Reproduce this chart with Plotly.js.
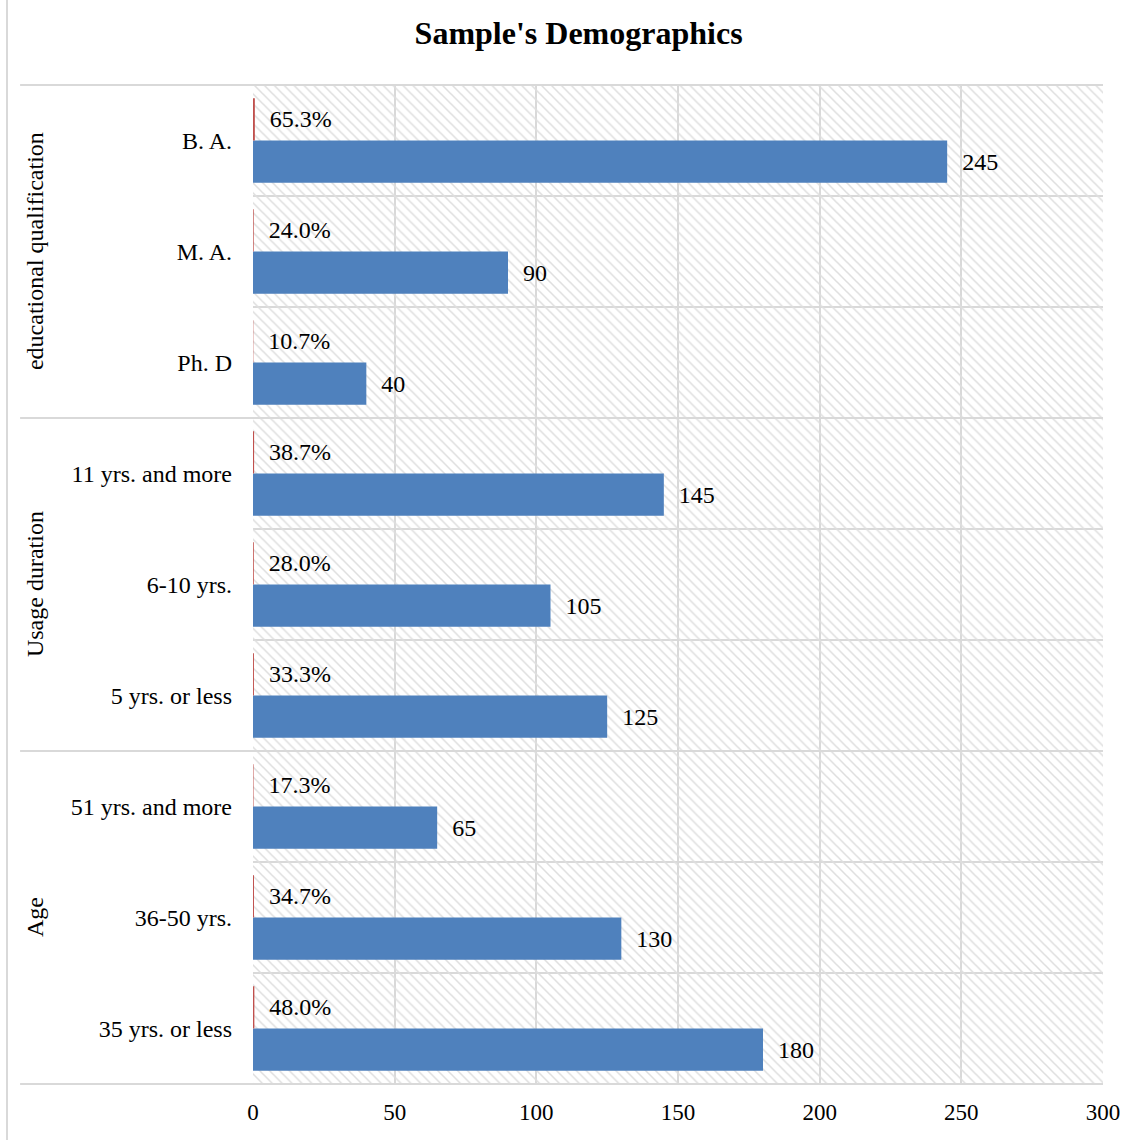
<!DOCTYPE html>
<html>
<head>
<meta charset="utf-8">
<script src="https://cdn.plot.ly/plotly-3.0.1.min.js"></script>
<style>html,body{margin:0;padding:0;background:#fff;}#chart{width:1139px;height:1140px;}</style>
</head>
<body>
<div id="chart"></div>
<script>
// Categories, bottom to top
const categories = ["35 yrs. or less", "36-50 yrs.", "51 yrs. and more",
  "5 yrs. or less", "6-10 yrs.", "11 yrs. and more",
  "Ph. D", "M. A.", "B. A."];
const groups = ["Age", "Usage duration", "educational qualification"];
const groupMiddle = ["36-50 yrs.", "6-10 yrs.", "M. A."];
const counts = [180, 130, 65, 125, 105, 145, 40, 90, 245];
const shares = [0.480, 0.347, 0.173, 0.333, 0.280, 0.387, 0.107, 0.240, 0.653];
const xTicks = [0, 50, 100, 150, 200, 250, 300];

const serif = "Liberation Serif, Times New Roman, serif";
const nb = "\u00a0";

const traces = [
  { // hatched background
    type: "bar", x: [0.5], y: [1], width: [1], xaxis: "x", yaxis: "y",
    marker: { color: "rgba(0,0,0,0)", line: { width: 0 },
      pattern: { shape: "\\", fgcolor: "#dedede", bgcolor: "rgba(0,0,0,0)", size: 7, solidity: 0.22, fillmode: "replace" } },
    hoverinfo: "skip", showlegend: false
  },
  {
    type: "bar", orientation: "h", name: "Count",
    y: categories, x: counts, xaxis: "x2", yaxis: "y2",
    marker: { color: "#4f81bd" },
    text: counts.map(v => nb + nb + v), textposition: "outside",
    textfont: { family: serif, size: 24, color: "#000" }, cliponaxis: false,
    showlegend: false
  },
  {
    type: "bar", orientation: "h", name: "Percent",
    y: categories, x: shares, xaxis: "x2", yaxis: "y2",
    marker: { color: "#c0504d" },
    text: shares.map(v => nb + nb + (v * 100).toFixed(1) + "%"), textposition: "outside",
    textfont: { family: serif, size: 24, color: "#000" }, cliponaxis: false,
    showlegend: false
  }
];

const grid = "#d9d9d9";
const shapes = [
  { type: "line", xref: "paper", yref: "paper", x0: -0.2894, x1: -0.2894, y0: -0.06, y1: 1.09, line: { color: grid, width: 2 } }
];
[-0.5, 2.5, 5.5, 8.5].forEach(b => shapes.push({
  type: "line", xref: "paper", yref: "y2", x0: -0.274, x1: 1, y0: b, y1: b, line: { color: grid, width: 2 }
}));

const annotations = groups.map((g, i) => ({
  text: g, xref: "paper", yref: "y2", x: -0.257, y: groupMiddle[i],
  textangle: -90, showarrow: false, xanchor: "center", yanchor: "middle",
  font: { family: serif, size: 24, color: "#000" }
}));

const layout = {
  width: 1139, height: 1140,
  margin: { l: 253, r: 36, t: 84, b: 55 },
  paper_bgcolor: "#fff", plot_bgcolor: "rgba(0,0,0,0)",
  title: { text: "<b>Sample's Demographics</b>", x: 0.508, xanchor: "center", y: 0.971, yanchor: "middle",
    font: { family: serif, size: 32, color: "#000" } },
  barmode: "group", bargap: 0.24, bargroupgap: 0,
  showlegend: false,
  xaxis: { range: [0, 1], visible: false, fixedrange: true },
  yaxis: { range: [0, 1], visible: false, fixedrange: true },
  xaxis2: { overlaying: "x", anchor: "y2", range: [0, 300], tickvals: xTicks, ticktext: xTicks.map(String),
    showgrid: true, gridcolor: grid, gridwidth: 2, zeroline: false, showline: false,
    ticks: "", ticklabelstandoff: 11,
    tickfont: { family: serif, size: 23, color: "#000" } },
  yaxis2: { overlaying: "y", anchor: "x2", type: "category", categoryorder: "array", categoryarray: categories,
    tickson: "boundaries", showgrid: true, gridcolor: grid, gridwidth: 2, zeroline: false,
    showline: false, ticks: "", ticklabelstandoff: 20,
    tickfont: { family: serif, size: 24, color: "#000" } },
  shapes: shapes, annotations: annotations
};

Plotly.newPlot("chart", traces, layout, { displayModeBar: false, staticPlot: true });
</script>
</body>
</html>
